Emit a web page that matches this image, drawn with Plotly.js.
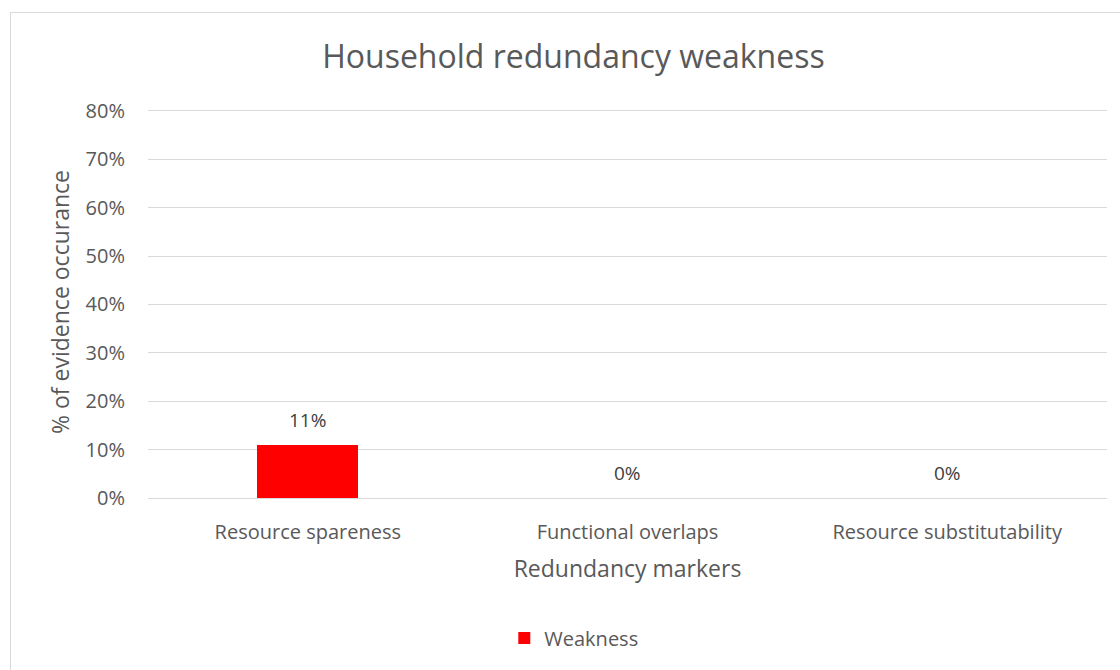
<!DOCTYPE html>
<html>
<head>
<meta charset="utf-8">
<script src="https://cdn.plot.ly/plotly-3.0.1.min.js"></script>
<style>
body{margin:0;background:#fff;}
#frame{position:absolute;left:10px;top:12px;width:1130px;height:680px;border:1px solid #d9d9d9;pointer-events:none;z-index:5;}
#chart{width:1120px;height:670px;}
</style>
</head>
<body>
<div id="frame"></div>
<div id="chart"></div>
<script>
const categories = ["Resource spareness", "Functional overlaps", "Resource substitutability"];
const weakness = [0.11, 0, 0];
const seriesName = "Weakness";
const yTickVals = [0, 0.1, 0.2, 0.3, 0.4, 0.5, 0.6, 0.7, 0.8];

const font = "'Open Sans', 'Liberation Sans', sans-serif";
const grey = "#595959";

const trace = {
  type: "bar",
  x: categories,
  y: weakness,
  name: seriesName,
  marker: {color: "#ff0000"},
  width: 0.316,
  hoverinfo: "none"
};

const annotations = categories.map((c, i) => ({
  x: c, y: weakness[i], xref: "x", yref: "y",
  text: Math.round(weakness[i] * 100) + "%",
  showarrow: false, yanchor: "middle", yshift: 25,
  font: {family: font, size: 19, color: "#404040"}
}));

const layout = {
  width: 1120, height: 670,
  margin: {l: 148, r: 13, t: 106, b: 172},
  paper_bgcolor: "#fff", plot_bgcolor: "#fff",
  font: {family: font, color: grey},
  title: {text: "Household redundancy weakness", x: 0.512, xref: "container", xanchor: "center",
          y: 0.915, yref: "container", yanchor: "middle",
          font: {family: font, size: 32, color: grey}},
  xaxis: {
    type: "category",
    showgrid: false, zeroline: false, showline: false,
    ticks: "", ticklabelstandoff: 20,
    tickfont: {family: font, size: 20, color: grey},
    title: {text: "Redundancy markers", standoff: 16, font: {family: font, size: 23, color: grey}}
  },
  yaxis: {
    range: [0, 0.81],
    tickvals: yTickVals,
    tickformat: ".0%",
    showgrid: true, gridcolor: "#d9d9d9", gridwidth: 1,
    zeroline: true, zerolinecolor: "#d9d9d9", zerolinewidth: 1,
    showline: false, ticks: "", ticklabelstandoff: 22,
    tickfont: {family: font, size: 20, color: grey},
    title: {text: "% of evidence occurance", standoff: 9, font: {family: font, size: 23, color: grey}}
  },
  showlegend: true,
  legend: {orientation: "h", x: 0.444, xanchor: "center", y: -0.357, yanchor: "middle",
           font: {family: font, size: 20, color: grey}, itemwidth: 30},
  annotations: annotations,
  bargap: 0
};

Plotly.newPlot("chart", [trace], layout, {displayModeBar: false, staticPlot: true});
</script>
</body>
</html>
